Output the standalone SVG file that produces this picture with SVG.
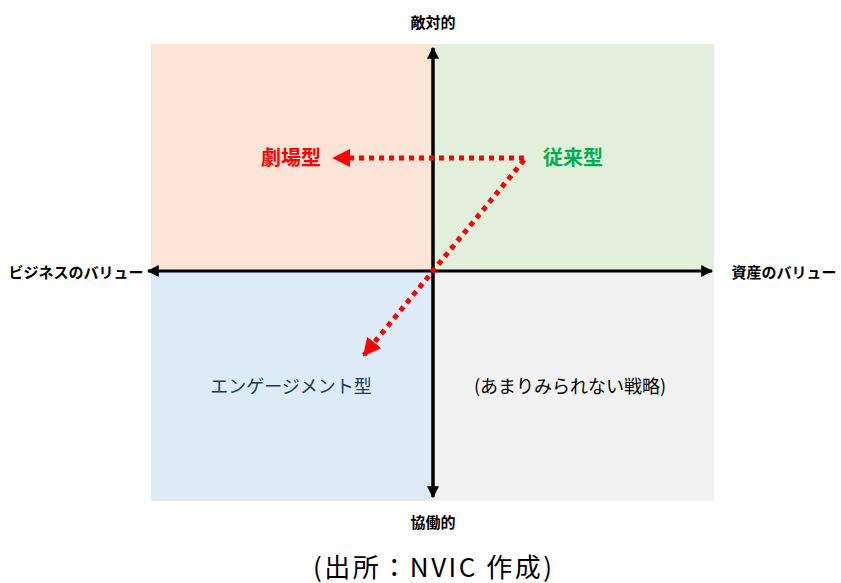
<svg xmlns="http://www.w3.org/2000/svg" width="841" height="583" viewBox="0 0 841 583">
<style>
text{font-family:"Noto Sans CJK JP","Noto Sans",sans-serif}
.ax{font-size:15px;font-weight:bold;fill:#000}
.axis{stroke:#000;stroke-width:3;fill:none}
.dot{stroke:#FF0000;stroke-width:5;stroke-dasharray:5 5;fill:none}
</style>
<defs>
<marker id="ah" viewBox="0 0 10 10" refX="9" refY="5" markerWidth="4" markerHeight="4" orient="auto" markerUnits="strokeWidth"><path d="M0,0 L10,5 L0,10 z" fill="#000"/></marker>
<marker id="rh" viewBox="0 0 10 10" refX="9" refY="5" markerWidth="3.6" markerHeight="3.6" orient="auto" markerUnits="strokeWidth"><path d="M0,0 L10,5 L0,10 z" fill="#FF0000"/></marker>
</defs>
<g id="quadrants">
<rect x="151" y="44" width="282" height="227" fill="#FCE4D6"/>
<rect x="433" y="44" width="281" height="227" fill="#E2EFDA"/>
<rect x="151" y="271" width="282" height="230" fill="#DDEBF7"/>
<rect x="433" y="271" width="281" height="230" fill="#F2F2F2"/>
</g>
<g id="connectors">
<line class="axis" x1="433" y1="497" x2="433" y2="48" marker-end="url(#ah)"/>
<line class="axis" x1="433" y1="48" x2="433" y2="497" marker-end="url(#ah)"/>
<line class="axis" x1="433" y1="271" x2="712" y2="271" marker-end="url(#ah)"/>
<line class="axis" x1="433" y1="271" x2="148" y2="271" marker-end="url(#ah)"/>
<line class="dot" x1="524" y1="158" x2="334" y2="158" marker-end="url(#rh)"/>
<line class="dot" x1="524" y1="160" x2="364" y2="355" marker-end="url(#rh)"/>
</g>
<g id="n-gekijo"><text x="291" y="165" font-size="20" font-weight="bold" fill="#FF0000" text-anchor="middle">劇場型</text></g>
<g id="n-jurai"><text x="573" y="165" font-size="20" font-weight="bold" fill="#00B050" text-anchor="middle">従来型</text></g>
<g id="n-engage"><text x="291" y="393" font-size="18" fill="#203864" text-anchor="middle">エンゲージメント型</text></g>
<g id="n-rare"><text x="570" y="393" font-size="18" fill="#000" text-anchor="middle">(あまりみられない戦略)</text></g>
<g id="n-top"><text class="ax" x="433" y="28" text-anchor="middle">敵対的</text></g>
<g id="n-bottom"><text class="ax" x="433" y="528" text-anchor="middle">協働的</text></g>
<g id="n-left"><text class="ax" x="76" y="278" text-anchor="middle">ビジネスのバリュー</text></g>
<g id="n-right"><text class="ax" x="784" y="278" text-anchor="middle">資産のバリュー</text></g>
<g id="caption"><text x="313" y="577" font-size="26" fill="#000" textLength="239" lengthAdjust="spacing">(出所：NVIC 作成)</text></g>
</svg>
